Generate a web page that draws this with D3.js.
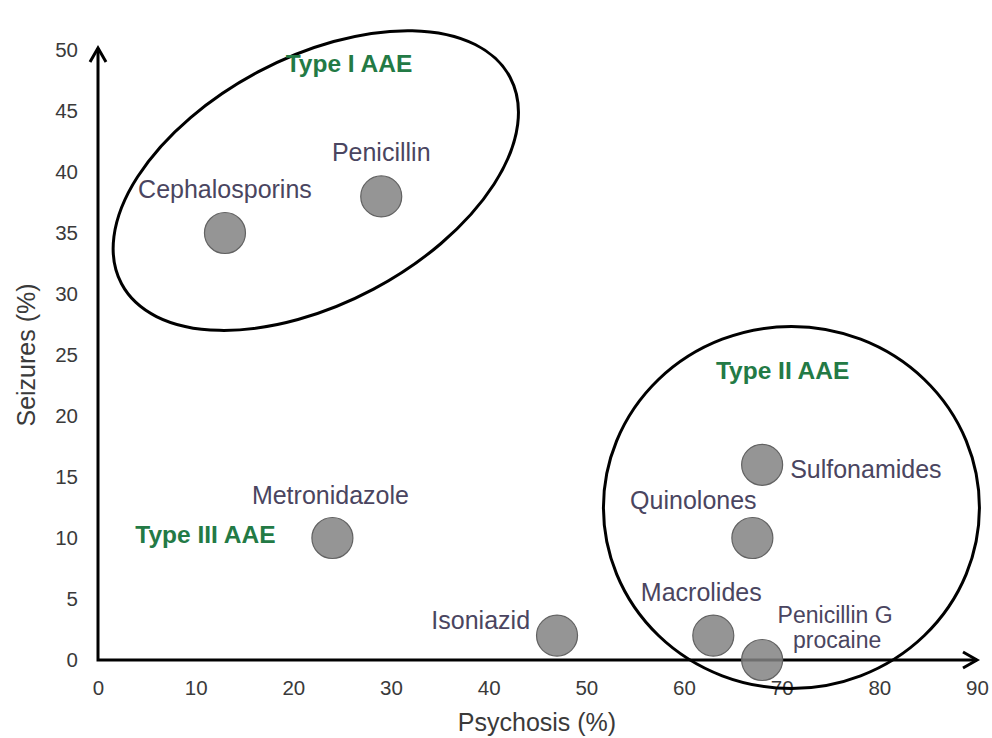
<!DOCTYPE html>
<html>
<head>
<meta charset="utf-8">
<script src="https://cdn.jsdelivr.net/npm/d3@7/dist/d3.min.js"></script>
<style>
  html, body { margin: 0; padding: 0; background: #fff; }
  svg { display: block; font-family: "Liberation Sans", Arial, sans-serif; }
</style>
</head>
<body>
<svg id="chart" width="992" height="738"></svg>
<script>
// ---- Data ----
const drugs = ["Cephalosporins", "Penicillin", "Metronidazole", "Isoniazid",
               "Sulfonamides", "Quinolones", "Macrolides", "Penicillin G procaine"];
const psychosis = [13, 29, 24, 47, 68, 67, 63, 68];
const seizures  = [35, 38, 10, 2, 16, 10, 2, 0];

const groupNames = ["Type I AAE", "Type II AAE", "Type III AAE"];
const groupLabelX = [25.7, 70.1, 11.0];
const groupLabelY = [48.2, 23.0, 9.6];

// cluster ellipse centres (data units)
const clusterX = [22.3, 71.0];
const clusterY = [39.3, 12.5];

const xTicks = [0, 10, 20, 30, 40, 50, 60, 70, 80, 90];
const yTicks = [0, 5, 10, 15, 20, 25, 30, 35, 40, 45, 50];

// ---- Layout / style ----
const labelOffsets = {
  "Cephalosporins": {dx: 0, dy: -35, anchor: "middle"},
  "Penicillin": {dx: 0, dy: -35, anchor: "middle"},
  "Metronidazole": {dx: -2, dy: -34, anchor: "middle"},
  "Isoniazid": {dx: -27, dy: -7, anchor: "end"},
  "Sulfonamides": {dx: 28, dy: 13, anchor: "start"},
  "Quinolones": {dx: -59, dy: -29, anchor: "middle"},
  "Macrolides": {dx: -12, dy: -35, anchor: "middle"},
  "Penicillin G procaine": {dx: 73, dy: -37, anchor: "middle"}
};
const ellipseStyle = [
  {rx: 220, ry: 123, rot: -28},
  {rx: 188, ry: 181, rot: 0}
];

const svg = d3.select("#chart");
const x = d3.scaleLinear().domain([0, 90]).range([98, 977]);
const y = d3.scaleLinear().domain([0, 50]).range([660, 50]);

const tickColor = "#3a3a3a";
const labelColor = "#4a4560";
const green = "#237a45";
const FONT = "Liberation Sans, Arial, sans-serif";

// axes (labels only)
const gx = svg.append("g").attr("transform", `translate(0,${y(0)})`)
  .call(d3.axisBottom(x).tickValues(xTicks).tickSize(0).tickPadding(20).tickFormat(d3.format("d")));
gx.select(".domain").remove();
gx.selectAll("text").attr("font-size", 20.5).attr("fill", tickColor).attr("font-family", FONT);

const gy = svg.append("g").attr("transform", `translate(${x(0)},0)`)
  .call(d3.axisLeft(y).tickValues(yTicks).tickSize(0).tickPadding(20).tickFormat(d3.format("d")));
gy.select(".domain").remove();
gy.selectAll("text").attr("font-size", 20.5).attr("fill", tickColor).attr("font-family", FONT);

// axis lines with arrows
const x0 = x(0), y0 = y(0), xEnd = x(90), yEnd = y(50) - 2;
svg.append("path")
  .attr("d", `M${x0},${yEnd} L${x0},${y0} L${xEnd},${y0}`)
  .attr("fill", "none").attr("stroke", "#000").attr("stroke-width", 3);
svg.append("path")
  .attr("d", `M${x0 - 8},${yEnd + 14} L${x0},${yEnd} L${x0 + 8},${yEnd + 14}`)
  .attr("fill", "none").attr("stroke", "#000").attr("stroke-width", 3);
svg.append("path")
  .attr("d", `M${xEnd - 14},${y0 - 8} L${xEnd},${y0} L${xEnd - 14},${y0 + 8}`)
  .attr("fill", "none").attr("stroke", "#000").attr("stroke-width", 3);

// axis titles
svg.append("text").attr("x", 537).attr("y", 731)
  .attr("text-anchor", "middle").attr("font-size", 25).attr("fill", tickColor)
  .text("Psychosis (%)");
svg.append("text").attr("transform", `translate(35,${y(25)}) rotate(-90)`)
  .attr("text-anchor", "middle").attr("font-size", 25).attr("fill", tickColor)
  .text("Seizures (%)");

// points
const pts = drugs.map((d, i) => ({name: d, px: psychosis[i], sz: seizures[i]}));
svg.append("g").selectAll("circle").data(pts).join("circle")
  .attr("cx", d => x(d.px)).attr("cy", d => y(d.sz)).attr("r", 20.5)
  .attr("fill", "#828282").attr("fill-opacity", 0.85)
  .attr("stroke", "#626262").attr("stroke-width", 1.2);

// cluster ellipses
svg.append("g").selectAll("ellipse").data(clusterX.map((cx, i) => ({cx, cy: clusterY[i], s: ellipseStyle[i]})))
  .join("ellipse")
  .attr("transform", d => `translate(${x(d.cx)},${y(d.cy)}) rotate(${d.s.rot})`)
  .attr("rx", d => d.s.rx).attr("ry", d => d.s.ry)
  .attr("fill", "none").attr("stroke", "#000").attr("stroke-width", 3);

// drug labels
const lblG = svg.append("g");
pts.forEach(d => {
  const o = labelOffsets[d.name];
  const lines = d.name === "Penicillin G procaine" ? ["Penicillin G", "procaine"] : [d.name];
  lines.forEach((line, k) => {
    lblG.append("text")
      .attr("x", x(d.px) + o.dx + (k ? 2 : 0))
      .attr("y", y(d.sz) + o.dy + k * 25)
      .attr("text-anchor", o.anchor)
      .attr("font-size", lines.length > 1 ? 23 : 25)
      .attr("fill", labelColor)
      .text(line);
  });
});

// group labels
svg.append("g").selectAll("text").data(groupNames).join("text")
  .attr("x", (d, i) => x(groupLabelX[i])).attr("y", (d, i) => y(groupLabelY[i]))
  .attr("text-anchor", "middle").attr("font-size", 24.5).attr("font-weight", "bold")
  .attr("fill", green).text(d => d);
</script>
</body>
</html>
